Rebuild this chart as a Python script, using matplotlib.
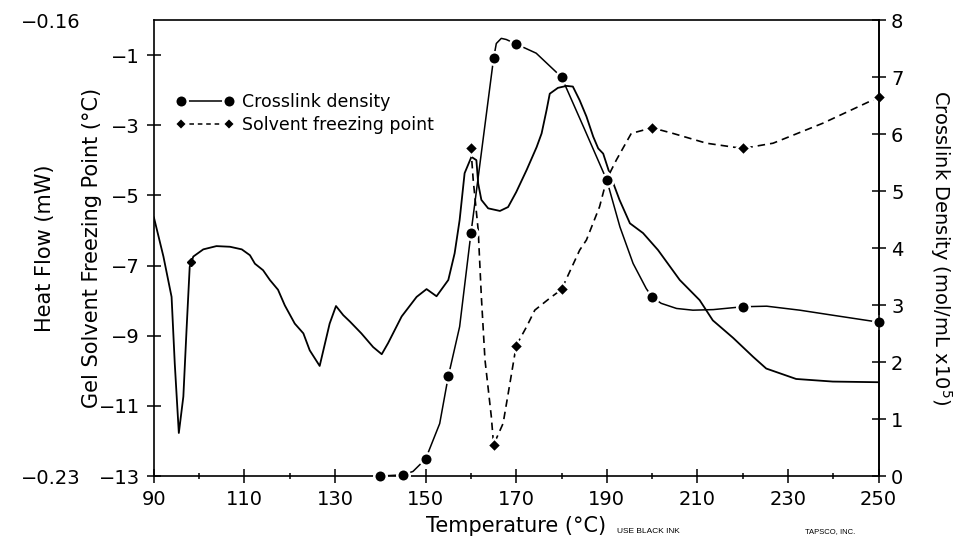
import matplotlib
matplotlib.use("Agg")
import matplotlib.pyplot as plt

plt.rcParams["font.family"] = ["DejaVu Sans"]

# DSC trace, temperature (degC) vs heat flow (mW)
hf_temp = [90.0, 92.1, 93.9, 94.6, 95.5, 96.5, 97.2, 97.9, 98.7, 100.9, 103.8, 106.8,
           109.4, 111.2, 112.3, 114.1, 115.6, 117.4, 118.9, 121.1, 123.0, 124.4, 126.6,
           128.8, 130.2, 131.8, 133.3, 135.8, 138.4, 140.3, 141.7, 144.7, 148.0, 150.2,
           152.4, 155.0, 156.4, 157.5, 158.6, 160.1, 161.2, 161.6, 162.3, 163.8, 166.4,
           168.2, 170.0, 172.3, 174.5, 175.6, 176.7, 177.4, 179.2, 181.1, 182.5, 184.0,
           185.5, 187.0, 188.1, 189.2, 190.6, 192.8, 195.1, 198.0, 201.3, 206.1, 210.5,
           213.4, 217.9, 222.3, 225.2, 231.8, 239.9, 250.0]
hf_value = [-0.1903, -0.1963, -0.2025, -0.2127, -0.2234, -0.2178, -0.2076, -0.1979,
            -0.1963, -0.1952, -0.1947, -0.1948, -0.1952, -0.1961, -0.1974, -0.1984,
            -0.1999, -0.2014, -0.2038, -0.2066, -0.2081, -0.2107, -0.2131, -0.2066,
            -0.2039, -0.2053, -0.2063, -0.2081, -0.2102, -0.2113, -0.2096, -0.2055,
            -0.2025, -0.2013, -0.2024, -0.1999, -0.1958, -0.1907, -0.1835, -0.1810,
            -0.1815, -0.1851, -0.1876, -0.1889, -0.1893, -0.1887, -0.1864, -0.1830,
            -0.1795, -0.1774, -0.1738, -0.1713, -0.1704, -0.1701, -0.1702, -0.1723,
            -0.1748, -0.1779, -0.1797, -0.1805, -0.1835, -0.1876, -0.1912, -0.1927,
            -0.1953, -0.1999, -0.2030, -0.2061, -0.2088, -0.2117, -0.2135, -0.2151,
            -0.2155, -0.2156]

# crosslink density measurements (mol/mL x 1e5)
xl_temp = [140, 145, 150, 155, 160, 165, 170, 180, 190, 200, 220, 250]
xl_density = [0.0, 0.02, 0.3, 1.75, 4.26, 7.33, 7.58, 7.0, 5.19, 3.14, 2.97, 2.70]
# hand-drawn curve through the measurements
xl_curve_t = [140, 145, 147.2, 150, 153.1, 155, 157.5, 160, 165, 165.6, 166.7, 167.8,
              170, 174.4, 180, 185, 190, 192.9, 195.8, 198.7, 200, 202, 205.4, 209,
              213.5, 220, 225.3, 232.6, 240, 250]
xl_curve_v = [0.0, 0.02, 0.08, 0.3, 0.92, 1.75, 2.62, 4.26, 7.33, 7.59, 7.68, 7.66,
              7.58, 7.42, 7.0, 6.1, 5.19, 4.37, 3.73, 3.29, 3.14, 3.03, 2.94, 2.91,
              2.92, 2.97, 2.98, 2.91, 2.82, 2.70]

# gel solvent freezing point measurements (degC)
fp_temp = [160, 165, 170, 180, 190, 200, 220, 250]
fp_value = [-3.66, -12.11, -9.28, -7.68, -4.53, -3.07, -3.66, -2.20]
fp_curve_t = [160, 160.5, 161.6, 162.3, 163.1, 164.5, 165, 167.1, 168.6, 170, 172.3,
              174.1, 177.4, 180, 184, 185.5, 188.4, 190, 192.1, 195.4, 200, 204.6,
              212, 220, 226.7, 237.7, 250]
fp_curve_v = [-3.66, -4.56, -5.99, -7.89, -9.69, -11.31, -12.11, -11.5, -10.36, -9.28,
              -8.74, -8.27, -7.93, -7.68, -6.56, -6.27, -5.32, -4.53, -3.99, -3.23,
              -3.07, -3.23, -3.51, -3.66, -3.51, -2.94, -2.20]
fp_extra_t = [98.2]
fp_extra_v = [-6.89]

x_major = list(range(90, 251, 20))
x_minor = list(range(100, 250, 20))

fig = plt.figure(figsize=(9.56, 5.44), dpi=100)
ax = fig.add_axes([0.161, 0.125, 0.758, 0.838])
ax_hf = ax.twinx()
ax2 = ax.twinx()
ax_hf.set_zorder(0)
ax.set_zorder(1)
ax2.set_zorder(2)
ax.patch.set_visible(False)

# heat flow
ax_hf.plot(hf_temp, hf_value, color="black", lw=1.3)
ax_hf.set_ylim(-0.23, -0.16)
ax_hf.yaxis.tick_left()
ax_hf.yaxis.set_label_position("left")
ax_hf.set_yticks([-0.23, -0.16])
ax_hf.set_yticklabels(["\u22120.23", "\u22120.16"])
ax_hf.tick_params(axis="y", length=0, pad=53, labelsize=14)
for s in ax_hf.spines.values():
    s.set_visible(False)
ax_hf.set_ylabel("Heat Flow (mW)", fontsize=15)
ax_hf.yaxis.set_label_coords(-0.137, 0.5)

mk = dict(mec="white", mew=1.8, mfc="black", ls="none", clip_on=False)

# freezing point
ax.plot(fp_curve_t, fp_curve_v, color="black", lw=1.2, dashes=(4.5, 3))
ax.plot(fp_temp, fp_value, marker="D", ms=7, **mk)
ax.plot(fp_extra_t, fp_extra_v, marker="D", ms=4, mec="black", mfc="black", ls="none")
ax.set_xlim(90, 250)
ax.set_ylim(-13, 0)
ax.set_yticks([-13, -11, -9, -7, -5, -3, -1])
ax.set_xticks(x_major)
ax.set_xticks(x_minor, minor=True)
ax.tick_params(which="major", direction="inout", length=10, width=1.1, labelsize=14)
ax.tick_params(which="minor", direction="inout", length=5, width=1.1)
ax.tick_params(axis="x", pad=5)
ax.tick_params(axis="y", pad=5)
ax.set_xlabel("Temperature (\u00b0C)", fontsize=15, labelpad=5)
ax.set_ylabel("Gel Solvent Freezing Point (\u00b0C)", fontsize=15)
ax.yaxis.set_label_coords(-0.071, 0.5)
for s in ax.spines.values():
    s.set_linewidth(1.2)

# crosslink density
ax2.plot(xl_curve_t, xl_curve_v, color="black", lw=1.1)
ax2.plot(xl_temp, xl_density, marker="o", ms=9, **mk)
ax2.set_ylim(0, 8)
ax2.set_yticks(range(0, 9))
ax2.tick_params(axis="y", direction="inout", length=10, width=1.1, labelsize=14, pad=4)
ax2.set_ylabel("Crosslink Density (mol/mL x10$^5$)", fontsize=14, rotation=270, va="bottom")
ax2.yaxis.set_label_coords(1.068, 0.5)
for name, s in ax2.spines.items():
    s.set_linewidth(1.2)
    if name != "right":
        s.set_visible(False)

h1, = ax2.plot([], [], color="black", lw=1.1, marker="o", ms=9, mec="white", mew=1.8,
               mfc="black", label="Crosslink density")
h2, = ax2.plot([], [], color="black", lw=1.1, dashes=(3, 2.5), marker="D", ms=6.5,
               mec="white", mew=1.5, mfc="black", label="Solvent freezing point")
ax2.legend(handles=[h1, h2], loc="upper left", bbox_to_anchor=(0.03, 0.84),
           frameon=False, fontsize=12.5, handlelength=3.4, handletextpad=0.4,
           labelspacing=0.3, borderpad=0, borderaxespad=0, numpoints=2)

fig.text(0.678, 0.02, "USE BLACK INK", fontsize=6, family="Liberation Sans", ha="center")
fig.text(0.868, 0.02, "TAPSCO, INC.", fontsize=5.5, family="Liberation Sans", ha="center")

fig.savefig("out.png", dpi=100, facecolor="white")
